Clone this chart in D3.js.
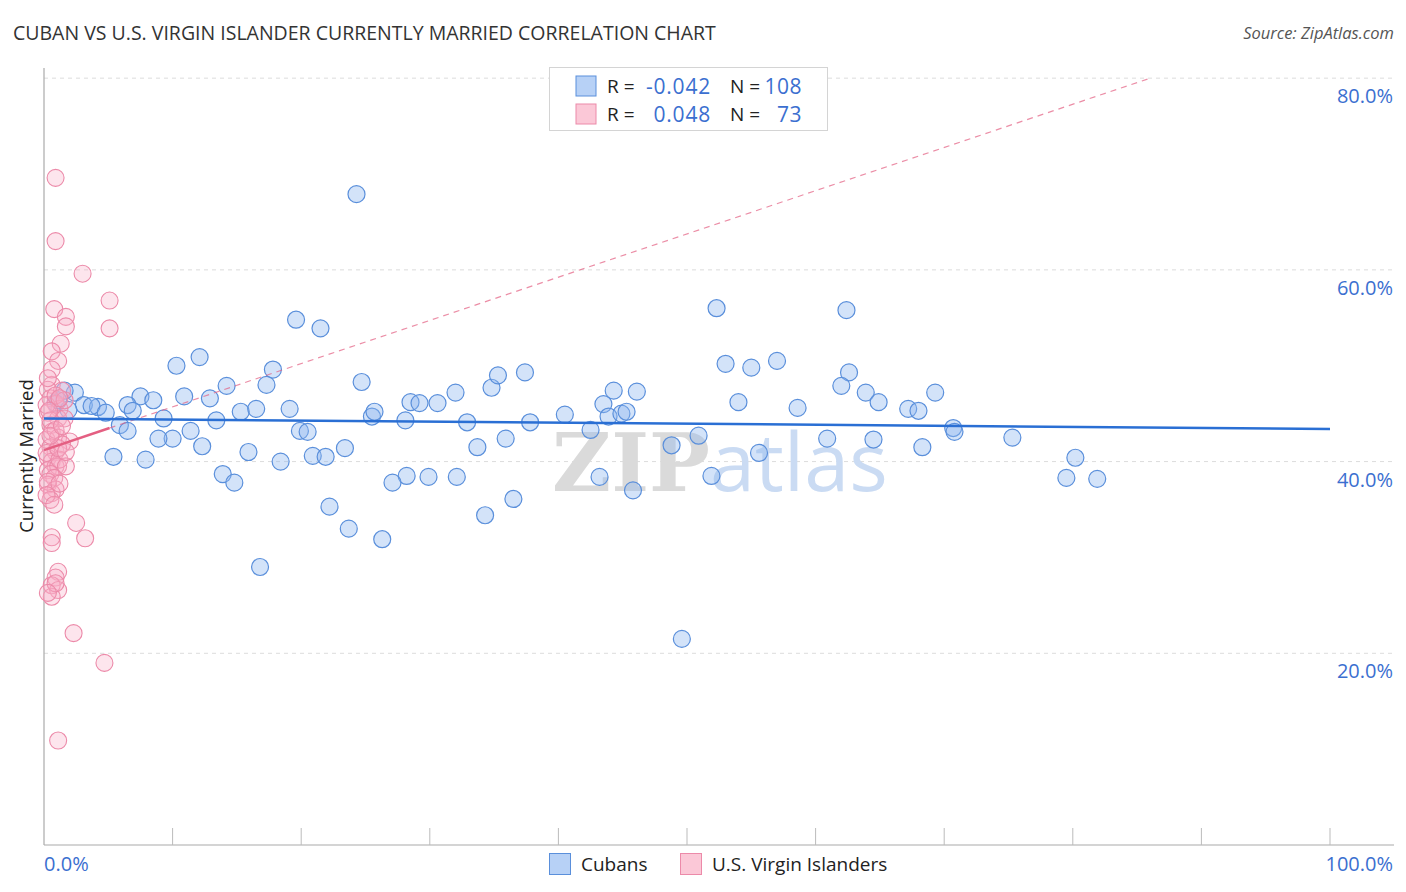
<!DOCTYPE html>
<html>
<head>
<meta charset="utf-8">
<script src="https://cdn.jsdelivr.net/npm/d3@7"></script>
<style>
  html, body { margin: 0; padding: 0; background: #fff; }
  svg { display: block; font-family: "Open Sans", "Noto Sans", sans-serif; }
</style>
</head>
<body>
<svg id="chart" width="1406" height="892"></svg>
<script>
// ---- data (percent) ----
const cubanX = [24.3,19.6,21.5,52.3,62.4,12.1,10.3,17.8,53.0,55.0,57.0,62.6,24.7,17.3,14.2,10.9,7.5,8.5,12.9,2.4,1.6,0.9,3.1,4.2,3.7,4.8,6.5,6.9,9.3,5.9,6.5,15.3,16.5,13.4,19.1,19.9,20.5,23.4,20.9,21.9,15.9,12.3,10.0,8.9,11.4,5.4,7.9,18.4,13.9,14.8,22.2,23.7,26.3,16.8,25.5,25.7,28.1,28.5,29.2,30.6,32.0,32.9,34.8,35.3,37.4,37.8,40.5,42.5,35.9,33.7,28.2,27.1,29.9,32.1,36.5,34.3,43.5,44.3,46.1,43.9,44.9,45.3,43.2,45.8,48.8,50.9,51.9,49.6,54.0,55.6,58.6,60.9,62.0,63.9,64.9,64.5,67.2,68.0,68.3,69.3,70.7,70.8,75.3,79.5,80.2,81.9,1.1,1.9];
const cubanY = [67.9,54.8,53.9,56.0,55.8,50.9,50.0,49.6,50.2,49.8,50.5,49.3,48.3,48.0,47.9,46.8,46.8,46.4,46.6,47.2,47.4,46.1,45.9,45.7,45.8,45.1,45.9,45.3,44.5,43.8,43.2,45.2,45.5,44.3,45.5,43.2,43.1,41.4,40.6,40.5,41.0,41.6,42.4,42.4,43.2,40.5,40.2,40.0,38.7,37.8,35.3,33.0,31.9,29.0,44.7,45.2,44.3,46.2,46.1,46.1,47.2,44.1,47.7,49.0,49.3,44.1,44.9,43.3,42.4,41.5,38.5,37.8,38.4,38.4,36.1,34.4,46.0,47.4,47.3,44.7,45.0,45.2,38.4,37.0,41.7,42.7,38.5,21.5,46.2,40.9,45.6,42.4,47.9,47.2,46.2,42.3,45.5,45.3,41.5,47.2,43.5,43.1,42.5,38.3,40.4,38.2,46.4,45.4];
const viX = [0.9,0.9,3.0,5.1,0.8,1.7,1.7,5.1,1.3,0.6,1.1,0.6,1.4,0.3,0.5,0.9,1.2,0.3,1.1,1.6,0.5,0.6,0.2,1.1,2.0,0.5,0.9,0.3,0.6,0.9,0.3,1.1,0.5,0.8,0.3,0.9,0.6,0.5,2.5,3.2,0.6,0.6,1.1,0.9,0.6,1.1,0.6,2.3,4.7,1.1,0.2,0.9,1.6,0.5,0.9,1.4,0.2,1.2,1.7,0.3,1.2,0.2,0.8,0.9,0.3,1.2,0.6,0.3,1.1,0.5,1.4,1.7,0.4];
const viY = [69.6,63.0,59.6,56.8,55.9,55.1,54.1,53.9,52.3,51.5,50.5,48.0,47.4,47.5,46.6,46.0,45.5,45.1,44.5,44.5,43.8,43.1,42.3,42.5,42.1,41.5,41.0,40.4,40.0,39.5,39.1,39.5,38.7,38.3,37.6,37.1,36.7,36.0,33.6,32.0,32.1,31.5,28.5,27.9,27.1,26.6,25.9,22.1,19.0,10.9,45.9,46.9,46.4,44.3,43.3,41.8,40.9,40.2,39.5,37.9,37.7,36.5,35.5,27.3,26.3,46.6,49.6,48.7,41.4,42.7,43.7,41.0,45.3];
const yTicks = [20, 40, 60, 80];
const xTickValues = [0,10,20,30,40,50,60,70,80,90,100];
const cubanTrend = { intercept: 44.5, slope: -0.011, x0: 0, x1: 100 };
const viTrend = { intercept: 41.2, slope: 0.451, x0: 0, xSolidEnd: 5.1, x1: 86.0 };
const legendRows = [
  { name: "Cubans", r: "-0.042", n: "108" },
  { name: "U.S. Virgin Islanders", r: "0.048", n: "73" }
];

// ---- layout ----
const svg = d3.select("#chart");
const mLeft = 44, mRight = 1330, mTop = 68, mBottom = 845, axisRight = 1394;
const x = d3.scaleLinear().domain([0, 100]).range([mLeft, mRight]);
const y = d3.scaleLinear().domain([0, 81.06]).range([mBottom, mTop]);

const blue = { fill: "rgba(140,182,238,0.38)", stroke: "#5a8fdb", line: "#2a6fd4" };
const pink = { fill: "rgba(248,175,198,0.32)", stroke: "#ec8aa9", line: "#e45f82" };

// title
svg.append("text").attr("x", 13).attr("y", 40).attr("font-size", 19.5).attr("fill", "#333")
  .text("CUBAN VS U.S. VIRGIN ISLANDER CURRENTLY MARRIED CORRELATION CHART");
svg.append("text").attr("x", 1394).attr("y", 39).attr("font-size", 16.5).attr("fill", "#555")
  .attr("text-anchor", "end").attr("font-style", "italic").text("Source: ZipAtlas.com");

// gridlines
svg.append("g").selectAll("line").data(yTicks).join("line")
  .attr("x1", mLeft).attr("x2", axisRight)
  .attr("y1", d => y(d)).attr("y2", d => y(d))
  .attr("stroke", "#dcdcdc").attr("stroke-dasharray", "4,4").attr("stroke-width", 1);

// y tick labels (right)
svg.append("g").selectAll("text").data(yTicks).join("text")
  .attr("x", 1393).attr("y", d => y(d) + 25)
  .attr("text-anchor", "end").attr("font-size", 20).attr("fill", "#3b6fd0")
  .text(d => d.toFixed(1) + "%");

// watermark
const wm = svg.append("text").attr("x", 720).attr("y", 491).attr("text-anchor", "middle")
  .attr("font-size", 81);
wm.append("tspan").attr("font-family", "'DejaVu Serif', serif").attr("fill", "#dadada").attr("font-weight", "bold").text("ZIP");
wm.append("tspan").attr("font-family", "'Open Sans', sans-serif").attr("fill", "#cadbf3").text("atlas");

// axes
svg.append("line").attr("x1", mLeft).attr("x2", mLeft).attr("y1", mTop).attr("y2", mBottom)
  .attr("stroke", "#aaa").attr("stroke-width", 1.2);
svg.append("line").attr("x1", mLeft).attr("x2", axisRight).attr("y1", mBottom).attr("y2", mBottom)
  .attr("stroke", "#aaa").attr("stroke-width", 1.2);
svg.append("g").selectAll("line").data(xTickValues.slice(1)).join("line")
  .attr("x1", d => x(d)).attr("x2", d => x(d)).attr("y1", mBottom - 17).attr("y2", mBottom)
  .attr("stroke", "#bbb").attr("stroke-width", 1);

svg.append("text").attr("x", mLeft).attr("y", 871).attr("font-size", 20).attr("fill", "#3b6fd0")
  .text("0.0%");
svg.append("text").attr("x", 1393).attr("y", 871).attr("font-size", 20).attr("fill", "#3b6fd0")
  .attr("text-anchor", "end").text("100.0%");

// y axis title
svg.append("text").attr("transform", "translate(33,456) rotate(-90)")
  .attr("text-anchor", "middle").attr("font-size", 18.5).attr("fill", "#222").text("Currently Married");

// points
const R = 8.5;
svg.append("g").selectAll("circle").data(cubanX.map((v, i) => [v, cubanY[i]])).join("circle")
  .attr("cx", d => x(d[0])).attr("cy", d => y(d[1])).attr("r", R)
  .attr("fill", blue.fill).attr("stroke", blue.stroke).attr("stroke-width", 1.2);
svg.append("g").selectAll("circle").data(viX.map((v, i) => [v, viY[i]])).join("circle")
  .attr("cx", d => x(d[0])).attr("cy", d => y(d[1])).attr("r", R)
  .attr("fill", pink.fill).attr("stroke", pink.stroke).attr("stroke-width", 1.1);

// trend lines
const tv = (t, xv) => t.intercept + t.slope * xv;
svg.append("line")
  .attr("x1", x(viTrend.xSolidEnd)).attr("y1", y(tv(viTrend, viTrend.xSolidEnd)))
  .attr("x2", x(viTrend.x1)).attr("y2", y(tv(viTrend, viTrend.x1)))
  .attr("stroke", pink.line).attr("stroke-width", 1.2).attr("stroke-dasharray", "6,5").attr("opacity", 0.7);
svg.append("line")
  .attr("x1", x(cubanTrend.x0)).attr("y1", y(tv(cubanTrend, cubanTrend.x0)))
  .attr("x2", x(cubanTrend.x1)).attr("y2", y(tv(cubanTrend, cubanTrend.x1)))
  .attr("stroke", blue.line).attr("stroke-width", 2.5);
svg.append("line")
  .attr("x1", x(viTrend.x0)).attr("y1", y(tv(viTrend, viTrend.x0)))
  .attr("x2", x(viTrend.xSolidEnd)).attr("y2", y(tv(viTrend, viTrend.xSolidEnd)))
  .attr("stroke", pink.line).attr("stroke-width", 2.5);

// top legend
const lg = svg.append("g");
lg.append("rect").attr("x", 549.5).attr("y", 67.5).attr("width", 278).attr("height", 63)
  .attr("fill", "#fff").attr("stroke", "#d4d4d4");
const cols = [blue, pink];
legendRows.forEach((row, i) => {
  const cy = 86 + i * 28;
  lg.append("rect").attr("x", 576).attr("y", cy - 10).attr("width", 20).attr("height", 20)
    .attr("fill", i === 0 ? "#b7d1f6" : "#fbc8d7").attr("stroke", cols[i].stroke).attr("stroke-width", 1);
  lg.append("text").attr("x", 607).attr("y", cy + 7).attr("font-size", 19).attr("fill", "#222").text("R =");
  lg.append("text").attr("x", 711).attr("y", cy + 7.5).attr("font-size", 21).attr("letter-spacing", 0.8)
    .attr("fill", "#3b6fd0").attr("text-anchor", "end").text(row.r);
  lg.append("text").attr("x", 730).attr("y", cy + 7).attr("font-size", 19).attr("fill", "#222").text("N =");
  lg.append("text").attr("x", 802).attr("y", cy + 7.5).attr("font-size", 21).attr("letter-spacing", 0.5)
    .attr("fill", "#3b6fd0").attr("text-anchor", "end").text(row.n);
});

// bottom legend
const bl = svg.append("g");
const bx = [549, 680];
legendRows.forEach((row, i) => {
  bl.append("rect").attr("x", bx[i] + 0.5).attr("y", 853.5).attr("width", 21).attr("height", 21)
    .attr("fill", i === 0 ? "#b7d1f6" : "#fbc8d7").attr("stroke", cols[i].stroke).attr("stroke-width", 1);
  bl.append("text").attr("x", bx[i] + 32).attr("y", 871).attr("font-size", 19).attr("fill", "#222").text(row.name);
});
</script>
</body>
</html>
